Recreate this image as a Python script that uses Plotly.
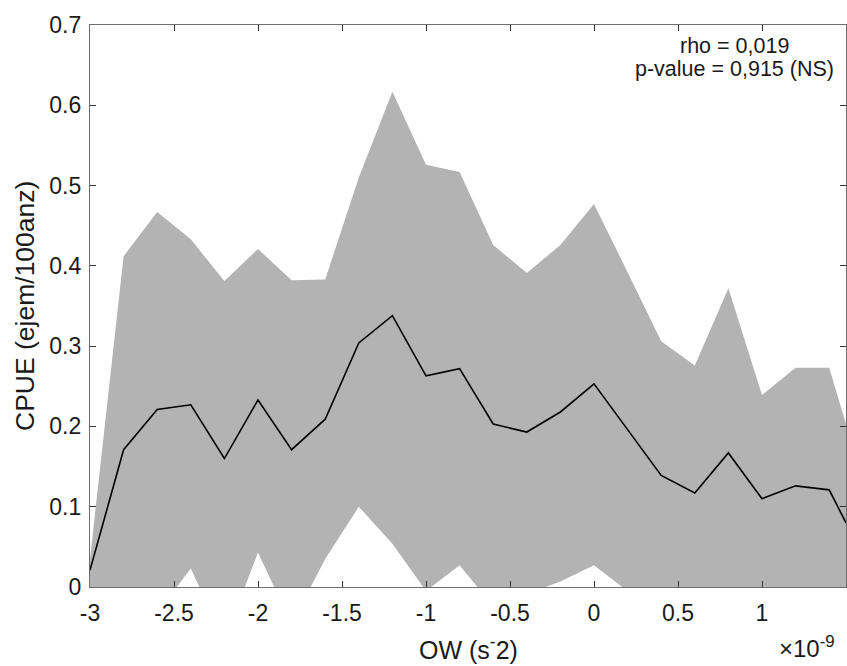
import plotly.graph_objects as go

# OW bins (x 1e-9 s^-2)
ow = [-3.0, -2.8, -2.6, -2.4, -2.2, -2.0, -1.8, -1.6, -1.4, -1.2, -1.0, -0.8,
      -0.6, -0.4, -0.2, 0.0, 0.2, 0.4, 0.6, 0.8, 1.0, 1.2, 1.4, 1.5]

cpue_mean = [0.021, 0.171, 0.221, 0.227, 0.160, 0.233, 0.171, 0.209, 0.304, 0.338,
             0.263, 0.272, 0.203, 0.193, 0.218, 0.253, 0.196, 0.139, 0.117, 0.167,
             0.110, 0.126, 0.121, 0.080]

cpue_upper = [0.035, 0.412, 0.467, 0.433, 0.381, 0.421, 0.382, 0.383, 0.510, 0.617,
              0.526, 0.517, 0.426, 0.391, 0.426, 0.477, 0.392, 0.306, 0.276, 0.372,
              0.239, 0.273, 0.273, 0.203]

cpue_lower = [-0.010, -0.070, -0.032, 0.023, -0.067, 0.043, -0.046, 0.035, 0.100, 0.054,
              -0.005, 0.027, -0.024, -0.009, 0.007, 0.027, -0.005, -0.030, -0.040, -0.040,
              -0.020, -0.020, -0.030, -0.040]

x_ticks = [-3, -2.5, -2, -1.5, -1, -0.5, 0, 0.5, 1]
x_ticklabels = ["-3", "-2.5", "-2", "-1.5", "-1", "-0.5", "0", "0.5", "1"]
y_ticks = [0, 0.1, 0.2, 0.3, 0.4, 0.5, 0.6, 0.7]
y_ticklabels = ["0", "0.1", "0.2", "0.3", "0.4", "0.5", "0.6", "0.7"]

stats_line1 = "rho = 0,019"
stats_line2 = "p-value = 0,915 (NS)"

FONT = "Liberation Sans, Arial, Helvetica, sans-serif"
TXT = "#1a1a1a"

fig = go.Figure()

# confidence band as closed polygon
fig.add_trace(go.Scatter(
    x=ow + ow[::-1],
    y=cpue_upper + cpue_lower[::-1],
    fill="toself",
    fillcolor="#b3b3b3",
    line=dict(width=0, color="#b3b3b3"),
    mode="lines",
    hoverinfo="skip",
    showlegend=False,
))

fig.add_trace(go.Scatter(
    x=ow, y=cpue_mean,
    mode="lines",
    line=dict(color="black", width=1.6),
    showlegend=False,
))

axis_common = dict(
    showline=True, linecolor="#6e6e6e", linewidth=1.2, mirror="ticks",
    ticks="inside", ticklen=6, tickcolor="#333333", tickwidth=1,
    showgrid=False, zeroline=False, automargin=False,
    tickfont=dict(family=FONT, size=23, color=TXT),
)

fig.update_layout(
    width=847, height=666,
    margin=dict(l=90, r=1, t=25, b=79, autoexpand=False),
    paper_bgcolor="white", plot_bgcolor="white",
    xaxis=dict(range=[-3, 1.5], tickvals=x_ticks, ticktext=x_ticklabels,
               ticklabelstandoff=5, **axis_common),
    yaxis=dict(range=[0, 0.7], tickvals=y_ticks, ticktext=y_ticklabels,
               ticklabelstandoff=3, **axis_common),
    font=dict(family=FONT, color=TXT),
)

annotations = [
    dict(text="CPUE (ejem/100anz)", xref="paper", yref="paper",
         x=-0.086, y=0.5, xanchor="center", yanchor="middle", textangle=-90,
         showarrow=False, font=dict(family=FONT, size=26.5, color=TXT)),
    dict(text="OW (s<sup>-</sup>2)", xref="paper", yref="paper",
         x=0.5, y=-0.109, xanchor="center", yanchor="middle",
         showarrow=False, font=dict(family=FONT, size=25, color=TXT)),
    dict(text="×10<sup>-9</sup>", xref="paper", yref="paper",
         x=0.988, y=-0.106, xanchor="right", yanchor="middle",
         showarrow=False, font=dict(family=FONT, size=24, color=TXT)),
    dict(text=stats_line1, xref="paper", yref="paper",
         x=0.8525, y=0.963, xanchor="center", yanchor="middle",
         showarrow=False, font=dict(family=FONT, size=21.5, color=TXT)),
    dict(text=stats_line2, xref="paper", yref="paper",
         x=0.8525, y=0.9215, xanchor="center", yanchor="middle",
         showarrow=False, font=dict(family=FONT, size=21.5, color=TXT)),
]
fig.update_layout(annotations=annotations)

fig.write_html(
    "out.html",
    config={"displayModeBar": False},
    post_script="document.body.style.margin='0';"
                "document.body.style.overflow='hidden';"
                "document.documentElement.style.overflow='hidden';",
)
